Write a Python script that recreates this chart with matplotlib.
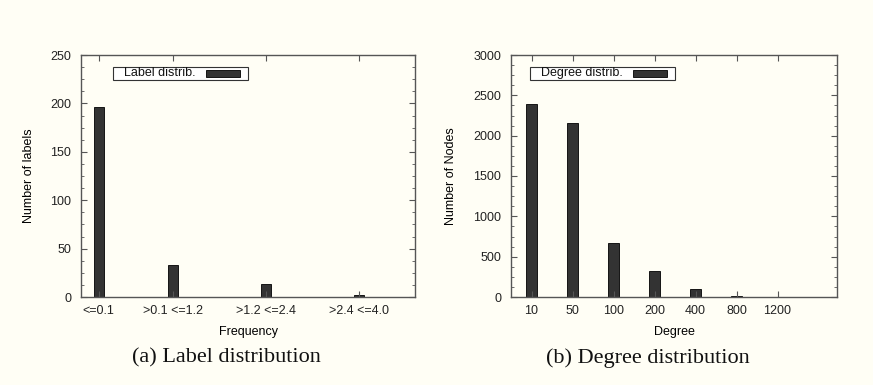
import matplotlib
matplotlib.use("Agg")
import matplotlib.pyplot as plt
from matplotlib.ticker import MultipleLocator, AutoMinorLocator
from matplotlib.patches import Rectangle

# ---- data ----
label_cats = ["<=0.1", ">0.1 <=1.2", ">1.2 <=2.4", ">2.4 <=4.0"]
label_pos = [0.0, 0.8, 1.8, 2.8]
label_counts = [196, 33, 13, 2]

degree_cats = ["10", "50", "100", "200", "400", "800", "1200"]
degree_counts = [2390, 2160, 675, 320, 95, 12, 0]

captions = ["(a) Label distribution", "(b) Degree distribution"]

BG = "#fffef5"
BAR = "#333333"
AX = "#555555"
W, H = 873, 385
FS = 9.0

fig = plt.figure(figsize=(W / 100, H / 100), dpi=100, facecolor=BG)
sans = "Liberation Sans"
serif = "Liberation Serif"

def box(x0, y0, x1, y1):
    return [x0 / W, 1 - y1 / H, (x1 - x0) / W, (y1 - y0) / H]

def style(ax, major, minor_n):
    ax.set_facecolor(BG)
    for s in ax.spines.values():
        s.set_color(AX)
        s.set_linewidth(1.0)
    ax.yaxis.set_major_locator(MultipleLocator(major))
    ax.yaxis.set_minor_locator(AutoMinorLocator(minor_n))
    ax.tick_params(axis="both", which="both", direction="in", colors="#222222",
                   top=True, right=True, labelsize=FS)
    ax.tick_params(axis="x", which="major", pad=6)
    ax.tick_params(axis="y", which="major", pad=7)
    ax.tick_params(axis="both", which="major", length=4, color=AX)
    ax.tick_params(axis="both", which="minor", length=2, color=AX)
    for t in ax.get_xticklabels() + ax.get_yticklabels():
        t.set_fontfamily(sans)

def legend(ax, text, x0, y0, x1, y1):
    fx0, fy0 = x0 / W, 1 - y1 / H
    r = Rectangle((fx0, fy0), (x1 - x0) / W, (y1 - y0) / H, transform=fig.transFigure,
                  facecolor="white", edgecolor="#333333", lw=0.8, zorder=5)
    fig.add_artist(r)
    fig.text((x0 + 11) / W, 1 - ((y0 + y1) / 2 - 0.5) / H, text, fontsize=FS, family=sans,
             va="center", ha="left", color="#111111", zorder=6)
    sx1 = x1 - 8
    sx0 = sx1 - 34
    s = Rectangle((sx0 / W, 1 - (y0 + 10) / H), (sx1 - sx0) / W, 7 / H, transform=fig.transFigure,
                  facecolor=BAR, edgecolor="black", lw=0.6, zorder=6)
    fig.add_artist(s)

# ---- left panel ----
ax1 = fig.add_axes(box(81, 55, 415, 297))
ax1.bar(label_pos, label_counts, width=0.11, color=BAR, edgecolor="black", linewidth=0.6)
ax1.set_xlim(-0.19, 3.4)
ax1.set_ylim(0, 250)
ax1.set_xticks(label_pos)
ax1.set_xticklabels(label_cats)
style(ax1, 50, 4)
ax1.set_xlabel("Frequency", fontsize=FS, family=sans, labelpad=6)
ax1.set_ylabel("Number of labels", fontsize=FS, family=sans, labelpad=11)
legend(ax1, "Label distrib.", 113, 67, 248, 80)

# ---- right panel ----
ax2 = fig.add_axes(box(511, 55, 837, 297))
xpos = list(range(len(degree_cats)))
ax2.bar(xpos, degree_counts, width=0.26, color=BAR, edgecolor="black", linewidth=0.6)
ax2.set_xlim(-0.5, 7.45)
ax2.set_ylim(0, 3000)
ax2.set_xticks(xpos)
ax2.set_xticklabels(degree_cats)
style(ax2, 500, 4)
ax2.set_xlabel("Degree", fontsize=FS, family=sans, labelpad=6)
ax2.set_ylabel("Number of Nodes", fontsize=FS, family=sans, labelpad=12)
legend(ax2, "Degree distrib.", 530, 67, 675, 80)

# ---- captions ----
fig.text(226 / W, 1 - 358 / H, captions[0], fontsize=16, family=serif, ha="center", va="center", color="#111111")
fig.text(648 / W, 1 - 358 / H, captions[1], fontsize=16, family=serif, ha="center", va="center", color="#111111")

fig.savefig("out.png", dpi=100, facecolor=BG)
